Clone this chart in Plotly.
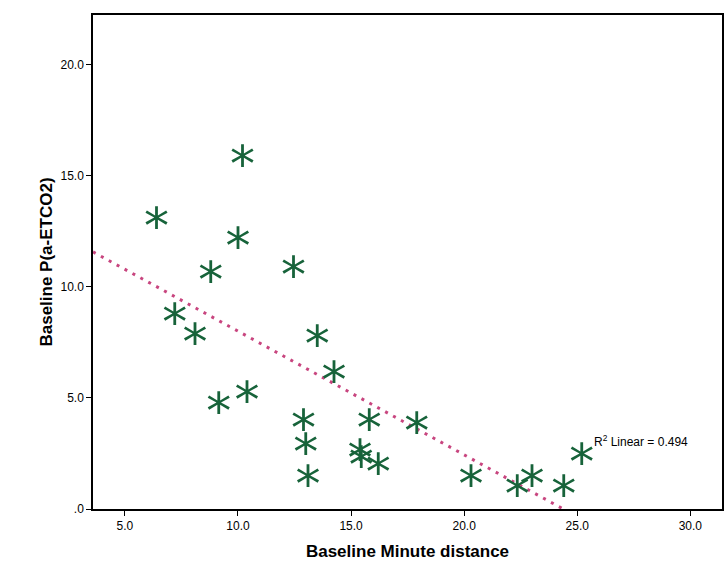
import plotly.graph_objects as go

# Data
minute_distance = [6.4, 10.2, 10.0, 8.8, 12.45, 7.2, 8.1, 13.5, 14.25, 9.15, 10.4,
                   12.9, 13.0, 13.1, 15.8, 15.4, 15.45, 16.2, 17.9, 20.3, 22.35,
                   23.0, 24.4, 25.2]
p_a_etco2 = [13.2, 16.0, 12.3, 10.8, 11.0, 8.9, 8.0, 7.9, 6.3, 4.9, 5.4,
             4.1, 3.05, 1.62, 4.1, 2.75, 2.45, 2.15, 4.0, 1.62, 1.17,
             1.62, 1.13, 2.6]

fit_intercept = 13.58
fit_slope = -0.557
r2_text = "R<sup>2</sup> Linear = 0.494"

x_ticks = [5, 10, 15, 20, 25, 30]
x_ticklabels = ["5.0", "10.0", "15.0", "20.0", "25.0", "30.0"]
y_ticks = [0, 5, 10, 15, 20]
y_ticklabels = [".0", "5.0", "10.0", "15.0", "20.0"]

x_range = [3.59, 31.4]
y_range = [0, 22.25]

# Fit line from left edge to where it crosses zero
fx0 = x_range[0]
fx1 = -fit_intercept / fit_slope
fit_x = [fx0, fx1]
fit_y = [fit_intercept + fit_slope * v for v in fit_x]

green = "#17633a"
font_family = "Liberation Sans, Arial, sans-serif"

fig = go.Figure()
fig.add_trace(go.Scatter(
    x=fit_x, y=fit_y, mode="lines",
    line=dict(color="#c8457f", width=3, dash="3px,6px"),
    hoverinfo="skip", showlegend=False, cliponaxis=True))
fig.add_trace(go.Scatter(
    x=minute_distance, y=p_a_etco2, mode="text",
    text=["\u204e"] * len(minute_distance), textposition="middle center",
    textfont=dict(family="DejaVu Sans", size=50, color=green),
    showlegend=False, cliponaxis=False))

fig.add_annotation(x=25.66, y=2.63, xref="x", yref="y", text=r2_text,
                   showarrow=False, xanchor="left", yanchor="bottom",
                   font=dict(family=font_family, size=12, color="black"))

fig.update_layout(
    width=728, height=583,
    margin=dict(l=93, r=4, t=15, b=74),
    paper_bgcolor="white", plot_bgcolor="white",
    font=dict(family=font_family, color="black"),
    xaxis=dict(range=x_range, tickvals=x_ticks, ticktext=x_ticklabels,
               showgrid=False, zeroline=False, showline=True, linecolor="black",
               linewidth=1.5, mirror=True, ticks="outside", ticklen=5,
               tickcolor="black", tickfont=dict(size=12, family=font_family),
               title=dict(text="<b>Baseline Minute distance</b>",
                          font=dict(size=17, family=font_family), standoff=13)),
    yaxis=dict(range=y_range, tickvals=y_ticks, ticktext=y_ticklabels,
               showgrid=False, zeroline=False, showline=True, linecolor="black",
               linewidth=1.5, mirror=True, ticks="outside", ticklen=5,
               tickcolor="black", tickfont=dict(size=12, family=font_family),
               title=dict(text="<b>Baseline P(a-ETCO2)</b>",
                          font=dict(size=17, family=font_family), standoff=4)),
)

fig.write_html("out.html")
